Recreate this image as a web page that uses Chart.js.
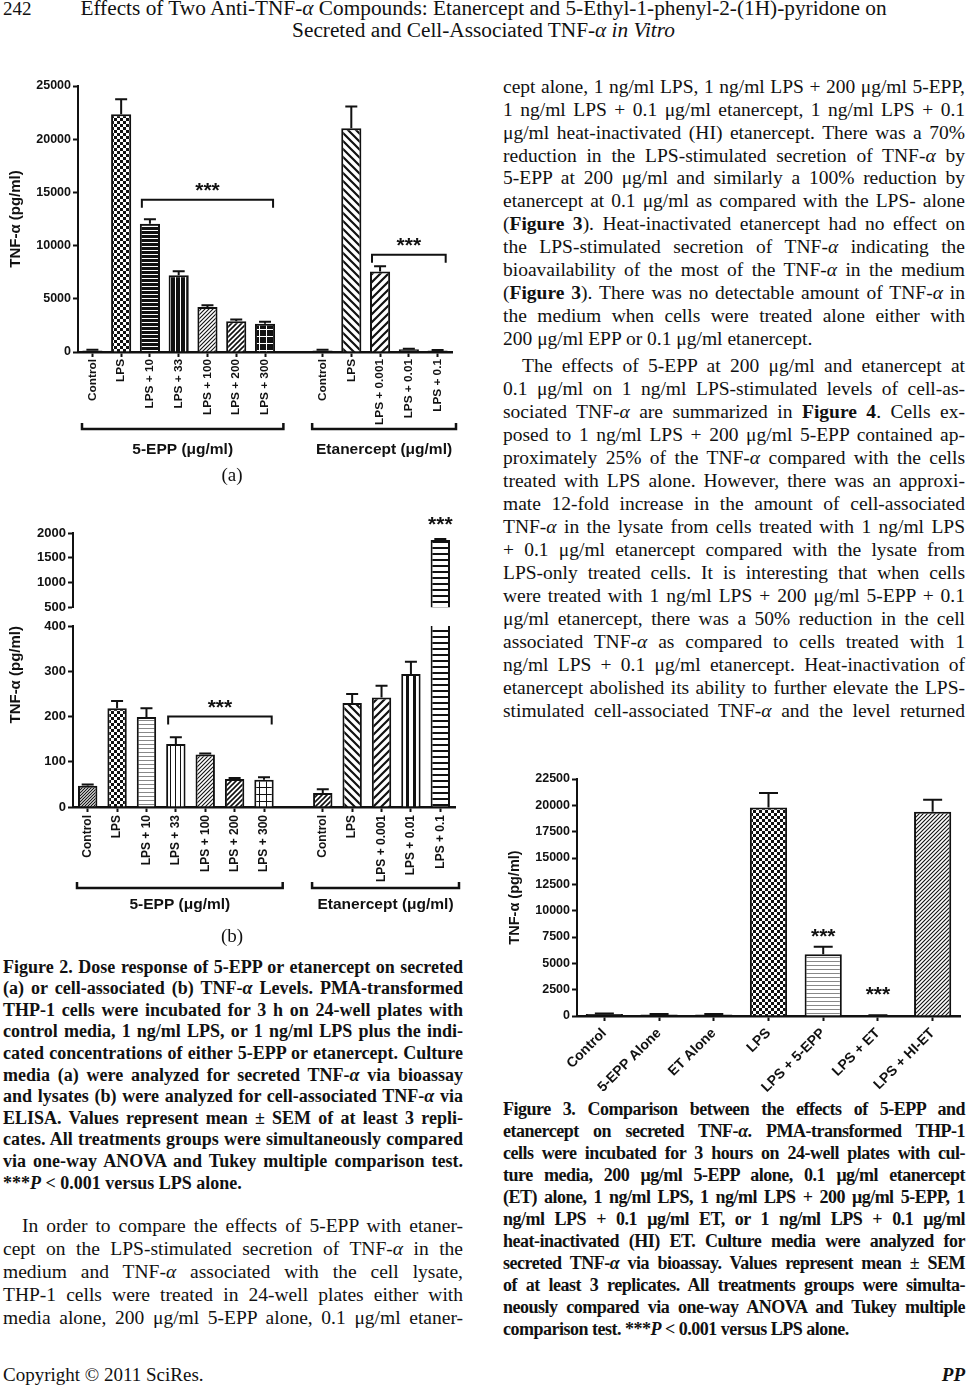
<!DOCTYPE html>
<html>
<head>
<meta charset="utf-8">
<script src="https://cdn.jsdelivr.net/npm/chart.js@4.4.1/dist/chart.umd.min.js"></script>
<style>
  html, body { margin: 0; padding: 0; background: #fff; }
  body { width: 967px; height: 1386px; position: relative; overflow: hidden; color: #111;
         font-family: "Liberation Serif", "Times New Roman", serif; }
  canvas { position: absolute; }
  .ln { position: absolute; box-sizing: border-box; }
</style>
</head>
<body>
<canvas id="figA" width="470" height="400" style="left:0;top:70px"></canvas>
<canvas id="figBHigh" width="470" height="112" style="left:0;top:505px"></canvas>
<canvas id="figBLow" width="470" height="313" style="left:0;top:612px"></canvas>
<canvas id="fig3" width="487" height="330" style="left:480px;top:765px"></canvas>
<script>
// ---- data ----
const doseLabels = ['Control', 'LPS', 'LPS + 10', 'LPS + 33', 'LPS + 100', 'LPS + 200', 'LPS + 300', '',
                    'Control', 'LPS', 'LPS + 0.001', 'LPS + 0.01', 'LPS + 0.1'];
const secretedMean = [150, 22350, 12060, 7210, 4230, 2900, 2650, null, 150, 21040, 7560, 250, 150];
const secretedSem = [60, 1410, 410, 380, 170, 160, 190, null, 50, 2030, 500, 60, 40];
const lysateMean = [47, 218, 199, 139, 116, 62, 60, null, 31, 230, 242, 294, 1860];
const lysateSem = [3, 16, 19, 15, 2, 2, 6, null, 8, 20, 26, 27, 20];
const fig3Labels = ['Control', '5-EPP Alone', 'ET Alone', 'LPS', 'LPS + 5-EPP', 'LPS + ET', 'LPS + HI-ET'];
const fig3Mean = [200, 150, 150, 19790, 5870, 50, 19385];
const fig3Sem = [40, 30, 30, 1375, 700, 20, 1140];
const secretedTicks = { min: 0, max: 25000, step: 5000 };
const lysateHighTicks = { min: 500, max: 2000, step: 500 };
const lysateLowTicks = { min: 0, max: 400, step: 100 };
const fig3Ticks = { min: 0, max: 22500, step: 2500 };

// fill pattern names per bar (styling, not data)
const secretedFill = ['solid', 'check', 'hDark', 'vDark', 'diagFine', 'diagMed', 'gridDark', 'solid',
                      'solid', 'back', 'slash', 'solid', 'solid'];
const lysateFill = ['diagGray', 'check', 'hGray', 'vThin', 'diagFine', 'diagMed', 'gridLight', 'solid',
                    'diagMed', 'back', 'slash', 'vBar', 'hBar'];
const fig3Fill = ['solid', 'solid', 'solid', 'check', 'hGray', 'solid', 'diagFine'];

const INK = '#111';
Chart.defaults.font.family = '"Liberation Sans", Arial, sans-serif';
Chart.defaults.color = INK;

function tile(w, h, paint) {
  const c = document.createElement('canvas');
  c.width = w; c.height = h;
  const g = c.getContext('2d');
  g.fillStyle = '#fff'; g.fillRect(0, 0, w, h);
  g.fillStyle = g.strokeStyle = INK;
  paint(g, w, h);
  return g.createPattern(c, 'repeat');
}
function diag(g, w, h, lw, dir) {
  g.lineWidth = lw;
  g.beginPath();
  for (let k = -1; k <= 1; k++) {
    if (dir > 0) { g.moveTo(k * w - 1, h + 1); g.lineTo(k * w + w + 1, -1); }
    else { g.moveTo(k * w - 1, -1); g.lineTo(k * w + w + 1, h + 1); }
  }
  g.stroke();
}
const PAT = {
  solid: INK,
  check: tile(6, 6, g => { g.fillRect(0, 0, 3, 3); g.fillRect(3, 3, 3, 3); }),
  hDark: tile(1, 4, g => g.fillRect(0, 1, 1, 3)),
  vDark: tile(5, 1, g => g.fillRect(1, 0, 4, 1)),
  diagFine: tile(4, 4, (g, w, h) => diag(g, w, h, 1.1, 1)),
  diagMed: tile(5, 5, (g, w, h) => diag(g, w, h, 1.6, 1)),
  diagGray: tile(3, 3, (g, w, h) => diag(g, w, h, 1.2, 1)),
  gridDark: tile(7, 7, g => { g.fillRect(0, 0, 7, 7); g.fillStyle = '#fff'; g.fillRect(0, 0, 7, 1); g.fillRect(0, 0, 1, 7); }),
  gridLight: tile(7, 7, g => { g.fillRect(0, 0, 7, 1); g.fillRect(0, 0, 1, 7); }),
  back: tile(8, 8, (g, w, h) => diag(g, w, h, 2.2, -1)),
  slash: tile(8, 8, (g, w, h) => diag(g, w, h, 2.2, 1)),
  hGray: tile(1, 4, g => { g.fillStyle = '#888'; g.fillRect(0, 0, 1, 1); }),
  vThin: tile(5, 1, g => g.fillRect(0, 0, 1, 1)),
  vBar: tile(7, 1, g => g.fillRect(0, 0, 3, 1)),
  hBar: tile(1, 6, g => g.fillRect(0, 0, 1, 2))
};

function drawStars(ctx, cx, cy, size) {
  ctx.font = 'bold ' + size + 'px "Liberation Sans"';
  ctx.textAlign = 'center';
  ctx.textBaseline = 'alphabetic';
  ctx.fillText('***', cx, cy + size * 0.58);
}

// upper error bar with cap, one per bar
const errorBars = {
  id: 'errorBars',
  afterDatasetsDraw(chart, args, opts) {
    if (!opts.sem) return;
    const { ctx, chartArea: a } = chart;
    const y = chart.scales.y;
    const values = chart.data.datasets[0].data;
    ctx.save();
    ctx.beginPath();
    ctx.rect(a.left, a.top - 1, a.right - a.left, a.bottom - a.top + 1);
    ctx.clip();
    ctx.strokeStyle = INK;
    ctx.lineWidth = 2;
    chart.getDatasetMeta(0).data.forEach((bar, i) => {
      if (values[i] == null || opts.sem[i] == null) return;
      const top = y.getPixelForValue(values[i] + opts.sem[i]);
      ctx.beginPath();
      ctx.moveTo(bar.x, bar.y);
      ctx.lineTo(bar.x, top);
      ctx.moveTo(bar.x - opts.cap / 2, top);
      ctx.lineTo(bar.x + opts.cap / 2, top);
      ctx.stroke();
    });
    ctx.restore();
  }
};

// significance brackets, stars and group brackets under the axis
const notes = {
  id: 'notes',
  afterDraw(chart, args, o) {
    const { ctx, chartArea: a } = chart;
    const x = chart.scales.x, y = chart.scales.y;
    const slot = x.getPixelForValue(1) - x.getPixelForValue(0);
    const half = slot * chart.data.datasets[0].barPercentage / 2;
    ctx.save();
    ctx.strokeStyle = ctx.fillStyle = INK;
    (o.brackets || []).forEach(b => {
      const x1 = x.getPixelForValue(b.from) - half + 2;
      const x2 = x.getPixelForValue(b.to) + half - 2;
      const yy = y.getPixelForValue(b.level);
      ctx.lineWidth = 2;
      ctx.beginPath();
      ctx.moveTo(x1, yy + 8); ctx.lineTo(x1, yy); ctx.lineTo(x2, yy); ctx.lineTo(x2, yy + 8);
      ctx.stroke();
      drawStars(ctx, (x1 + x2) / 2, yy - 15, o.starSize);
    });
    (o.stars || []).forEach(s => drawStars(ctx, x.getPixelForValue(s.at), y.getPixelForValue(s.level), o.starSize));
    (o.groups || []).forEach(g => {
      const x1 = x.getPixelForValue(g.from) - slot / 2 + 4;
      const x2 = x.getPixelForValue(g.to) + slot / 2 + 4;
      const yb = a.bottom + o.groupGap;
      ctx.lineWidth = 2.5;
      ctx.beginPath();
      ctx.moveTo(x1, yb - 6); ctx.lineTo(x1, yb); ctx.lineTo(x2, yb); ctx.lineTo(x2, yb - 6);
      ctx.stroke();
      ctx.font = 'bold 15.5px "Liberation Sans"';
      ctx.textAlign = 'center';
      ctx.textBaseline = 'middle';
      ctx.fillText(g.text, (x1 + x2) / 2, a.bottom + o.labelGap);
    });
    ctx.restore();
  }
};

function barChart(id, c) {
  return new Chart(document.getElementById(id), {
    type: 'bar',
    data: {
      labels: c.labels,
      datasets: [{
        data: c.values,
        backgroundColor: c.fills.map(f => PAT[f]),
        borderColor: INK,
        borderWidth: 2,
        borderSkipped: 'start',
        barPercentage: c.barPct,
        categoryPercentage: 1,
        clip: 0
      }]
    },
    options: {
      responsive: false,
      animation: false,
      devicePixelRatio: 1,
      layout: { padding: c.padding },
      plugins: {
        legend: { display: false },
        tooltip: { enabled: false },
        errorBars: { sem: c.sem, cap: c.cap },
        notes: c.notes || {}
      },
      scales: {
        x: {
          display: c.showX !== false,
          offset: true,
          afterFit: s => { s.height = c.xHeight; },
          grid: {
            offset: false, drawOnChartArea: false, tickLength: 5, tickWidth: 2,
            tickColor: ctx => (c.labels[ctx.index] ? INK : 'rgba(0,0,0,0)')
          },
          border: { color: INK, width: 2.5 },
          ticks: {
            autoSkip: false, minRotation: c.rotation, maxRotation: c.rotation,
            padding: c.tickPad, font: { size: c.xFont, weight: 'bold' }, color: INK
          }
        },
        y: {
          min: c.ticks.min, max: c.ticks.max,
          afterFit: s => { s.width = c.yWidth; },
          grid: { drawOnChartArea: false, tickLength: 5, tickWidth: 2, tickColor: INK },
          border: { color: INK, width: 2 },
          ticks: {
            stepSize: c.ticks.step, padding: 2, font: { size: c.yFont, weight: 'bold' }, color: INK,
            callback: v => String(v)
          },
          title: c.title ? {
            display: true, text: 'TNF-α (pg/ml)', color: INK, align: c.title.align || 'center',
            font: { size: c.title.size, weight: 'bold' }, padding: { top: c.title.pad, bottom: 0 }
          } : { display: false }
        }
      }
    },
    plugins: [errorBars, notes]
  });
}

const fig2Groups = [
  { from: 0, to: 6, text: '5-EPP (μg/ml)' },
  { from: 8, to: 12, text: 'Etanercept (μg/ml)' }
];

barChart('figA', {
  labels: doseLabels, values: secretedMean, sem: secretedSem, fills: secretedFill,
  ticks: secretedTicks, barPct: 0.7, cap: 12, rotation: 90, tickPad: 2, xFont: 11.8, yFont: 12.5,
  padding: { top: 16, right: 18, bottom: 0, left: 0 }, yWidth: 78, xHeight: 118,
  title: { size: 15, pad: 7 },
  notes: {
    starSize: 21,
    brackets: [{ from: 2, to: 6, level: 14300 }, { from: 10, to: 12, level: 9150 }],
    groups: fig2Groups, groupGap: 77, labelGap: 98
  }
});

barChart('figBHigh', {
  labels: doseLabels, values: lysateMean, sem: lysateSem, fills: lysateFill,
  ticks: lysateHighTicks, barPct: 0.66, cap: 12, rotation: 90, tickPad: 3, xFont: 12, yFont: 13,
  padding: { top: 28, right: 15, bottom: 9, left: 0 }, yWidth: 73, xHeight: 0, showX: false,
  notes: { starSize: 21, stars: [{ at: 12, level: 2290 }] }
});

barChart('figBLow', {
  labels: doseLabels, values: lysateMean, sem: lysateSem, fills: lysateFill,
  ticks: lysateLowTicks, barPct: 0.66, cap: 12, rotation: 90, tickPad: 3, xFont: 12, yFont: 13,
  padding: { top: 14, right: 15, bottom: 0, left: 0 }, yWidth: 73, xHeight: 118,
  title: { size: 15, pad: 7, align: 'end' },
  notes: {
    starSize: 21,
    brackets: [{ from: 3, to: 6, level: 200 }],
    groups: fig2Groups, groupGap: 81, labelGap: 98
  }
});

barChart('fig3', {
  labels: fig3Labels, values: fig3Mean, sem: fig3Sem, fills: fig3Fill,
  ticks: fig3Ticks, barPct: 0.68, cap: 19, rotation: 45, tickPad: 4, xFont: 14, yFont: 12.5,
  padding: { top: 14, right: 7, bottom: 0, left: 0 }, yWidth: 97, xHeight: 79,
  title: { size: 14.5, pad: 26 },
  notes: { starSize: 21, stars: [{ at: 4, level: 8100 }, { at: 5, level: 2550 }] }
});

// ---- page text ----
const A = 'TNF-<i>α</i>';
const captionFig2 = [
  'Figure 2. Dose response of 5-EPP or etanercept on secreted',
  '(a) or cell-associated (b) ' + A + ' Levels. PMA-transformed',
  'THP-1 cells were incubated for 3 h on 24-well plates with',
  'control media, 1 ng/ml LPS, or 1 ng/ml LPS plus the indi-',
  'cated concentrations of either 5-EPP or etanercept. Culture',
  'media (a) were analyzed for secreted ' + A + ' via bioassay',
  'and lysates (b) were analyzed for cell-associated ' + A + ' via',
  'ELISA. Values represent mean ± SEM of at least 3 repli-',
  'cates. All treatments groups were simultaneously compared',
  'via one-way ANOVA and Tukey multiple comparison test.',
  '***<i>P</i> &lt; 0.001 versus LPS alone.'
];
const paraLeft = [
  'In order to compare the effects of 5-EPP with etaner-',
  'cept on the LPS-stimulated secretion of ' + A + ' in the',
  'medium and ' + A + ' associated with the cell lysate,',
  'THP-1 cells were treated in 24-well plates either with',
  'media alone, 200 μg/ml 5-EPP alone, 0.1 μg/ml etaner-'
];
const paraRight1 = [
  'cept alone, 1 ng/ml LPS, 1 ng/ml LPS + 200 μg/ml 5-EPP,',
  '1 ng/ml LPS + 0.1 μg/ml etanercept, 1 ng/ml LPS + 0.1',
  'μg/ml heat-inactivated (HI) etanercept. There was a 70%',
  'reduction in the LPS-stimulated secretion of ' + A + ' by',
  '5-EPP at 200 μg/ml and similarly a 100% reduction by',
  'etanercept at 0.1 μg/ml as compared with the LPS- alone',
  '(<b>Figure 3</b>). Heat-inactivated etanercept had no effect on',
  'the LPS-stimulated secretion of ' + A + ' indicating the',
  'bioavailability of the most of the ' + A + ' in the medium',
  '(<b>Figure 3</b>). There was no detectable amount of ' + A + ' in',
  'the medium when cells were treated alone either with',
  '200 μg/ml EPP or 0.1 μg/ml etanercept.'
];
const paraRight2 = [
  'The effects of 5-EPP at 200 μg/ml and etanercept at',
  '0.1 μg/ml on 1 ng/ml LPS-stimulated levels of cell-as-',
  'sociated ' + A + ' are summarized in <b>Figure 4</b>. Cells ex-',
  'posed to 1 ng/ml LPS + 200 μg/ml 5-EPP contained ap-',
  'proximately 25% of the ' + A + ' compared with the cells',
  'treated with LPS alone. However, there was an approxi-',
  'mate 12-fold increase in the amount of cell-associated',
  A + ' in the lysate from cells treated with 1 ng/ml LPS',
  '+ 0.1 μg/ml etanercept compared with the lysate from',
  'LPS-only treated cells. It is interesting that when cells',
  'were treated with 1 ng/ml LPS + 200 μg/ml 5-EPP + 0.1',
  'μg/ml etanercept, there was a 50% reduction in the cell',
  'associated ' + A + ' as compared to cells treated with 1',
  'ng/ml LPS + 0.1 μg/ml etanercept. Heat-inactivation of',
  'etanercept abolished its ability to further elevate the LPS-',
  'stimulated cell-associated ' + A + ' and the level returned'
];
const captionFig3 = [
  'Figure 3. Comparison between the effects of 5-EPP and',
  'etanercept on secreted ' + A + '. PMA-transformed THP-1',
  'cells were incubated for 3 hours on 24-well plates with cul-',
  'ture media, 200 μg/ml 5-EPP alone, 0.1 μg/ml etanercept',
  '(ET) alone, 1 ng/ml LPS, 1 ng/ml LPS + 200 μg/ml 5-EPP, 1',
  'ng/ml LPS + 0.1 μg/ml ET, or 1 ng/ml LPS + 0.1 μg/ml',
  'heat-inactivated (HI) ET. Culture media were analyzed for',
  'secreted ' + A + ' via bioassay. Values represent mean ± SEM',
  'of at least 3 replicates. All treatments groups were simulta-',
  'neously compared via one-way ANOVA and Tukey multiple',
  'comparison test. ***<i>P</i> &lt; 0.001 versus LPS alone.'
];

function textWidth(html, font, ls) {
  const s = document.createElement('span');
  s.style.cssText = 'position:absolute;visibility:hidden;white-space:nowrap;font:' + font + ';letter-spacing:' + (ls || 0) + 'px';
  s.innerHTML = html;
  document.body.appendChild(s);
  const w = s.getBoundingClientRect().width;
  s.remove();
  return w;
}

function put(html, o) {
  const d = document.createElement('div');
  d.className = 'ln';
  const size = o.size, lh = o.lh || size * 1.2;
  const centre = (lh - 1.107 * size) / 2 + 0.891 * size - 0.3 * size;
  d.style.font = (o.weight || 'normal') + ' ' + size + 'px "Liberation Serif", serif';
  d.style.lineHeight = lh + 'px';
  d.style.top = (o.y - centre) + 'px';
  d.style.left = o.x + 'px';
  if (o.w) d.style.width = o.w + 'px';
  if (o.indent) d.style.paddingLeft = o.indent + 'px';
  if (o.ls) d.style.letterSpacing = o.ls + 'px';
  d.style.whiteSpace = o.w ? 'normal' : 'nowrap';
  d.style.textAlign = o.align || 'left';
  d.style.textAlignLast = o.align || 'left';
  d.innerHTML = html;
  document.body.appendChild(d);
  if (o.w) {
    const font = d.style.font;
    const avail = o.w - (o.indent || 0) - 1;
    const nat = textWidth(html, font, o.ls);
    if (nat > avail) {
      d.style.letterSpacing = ((o.ls || 0) + (avail - nat) / d.textContent.length) + 'px';
    }
  }
  return d;
}

function block(lines, b) {
  lines.forEach((html, i) => {
    put(html, {
      x: b.x, w: b.w, y: b.y + i * b.step, size: b.size, lh: b.step, weight: b.weight, ls: b.ls,
      indent: i === 0 ? b.indent : 0,
      align: i === lines.length - 1 && b.raggedLast ? 'left' : 'justify'
    });
  });
}

block(captionFig2, { x: 3, w: 460, y: 968, step: 21.6, size: 18, weight: 'bold', raggedLast: true });
block(paraLeft, { x: 3, w: 460, y: 1226, step: 23, size: 19.5, indent: 19 });
block(paraRight1, { x: 503, w: 462, y: 88, step: 22.9, size: 19.5, raggedLast: true });
block(paraRight2, { x: 503, w: 462, y: 366, step: 23, size: 19.5, indent: 19 });
block(captionFig3, { x: 503, w: 462, y: 1110, step: 22, size: 18, weight: 'bold', ls: -0.5, raggedLast: true });

put('242', { x: 3, y: 10, size: 19 });
put('Effects of Two Anti-' + A + ' Compounds: Etanercept and 5-Ethyl-1-phenyl-2-(1H)-pyridone on',
    { x: 0, w: 967, y: 10, size: 21.3, align: 'center' });
put('Secreted and Cell-Associated ' + A + ' <i>in Vitro</i>', { x: 0, w: 967, y: 32, size: 21.3, align: 'center' });
put('(a)', { x: 0, w: 464, y: 476, size: 19, align: 'center' });
put('(b)', { x: 0, w: 464, y: 937, size: 19, align: 'center' });
put('Copyright © 2011 SciRes.', { x: 3, y: 1376, size: 19 });
put('<b><i>PP</i></b>', { x: 800, w: 965 - 800, y: 1376, size: 19, align: 'right' });
</script>
</body>
</html>
